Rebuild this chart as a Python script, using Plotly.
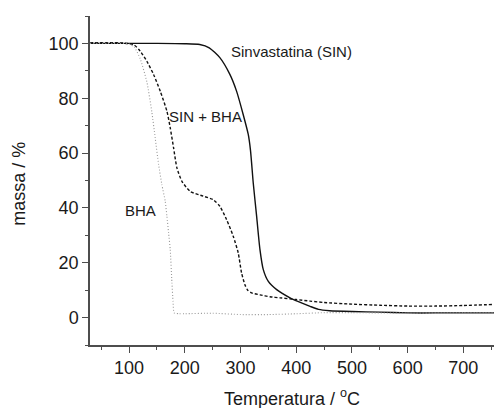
import plotly.graph_objects as go

# SIN (Sinvastatina)
sin_t = [30, 100, 150, 200, 227, 244, 263, 281, 293, 305, 314, 318, 323, 329, 335, 341,
         350, 365, 389, 403, 425, 440, 460, 500, 550, 600, 650, 700, 755]
sin_m = [100, 100, 100, 99.9, 99.6, 98.4, 94.8, 88.7, 82.6, 74.0, 66.8, 61.0, 49.0, 37.0, 24.8, 17.5,
         13.2, 10.2, 7.2, 5.9, 4.1, 3.0, 2.5, 2.2, 2.0, 1.7, 1.7, 1.7, 1.7]

# SIN + BHA
mix_t = [30, 60, 84, 108, 120, 132, 144, 156, 168, 174, 180, 186, 195, 210, 233, 251, 263,
         275, 287, 296, 302, 308, 313, 320, 335, 353, 371, 400, 425, 450, 500, 550, 600,
         650, 700, 755]
mix_m = [100.2, 100.3, 100.2, 99.6, 97.2, 93.5, 88.7, 82.6, 75.3, 69.2, 61.9, 54.6, 49.7, 46.0, 44.3,
         43.0, 40.6, 35.8, 29.7, 23.6, 16.3, 12.0, 10.0, 9.0, 8.3, 7.6, 7.2, 6.6, 6.0, 5.5, 4.9,
         4.5, 4.2, 4.2, 4.4, 4.8]

# BHA
bha_t = [30, 80, 100, 110, 120, 132, 141, 147, 153, 159, 165, 168, 171, 174, 177, 179, 181,
         190, 200, 250, 300, 350, 400, 450, 500, 600, 700, 755]
bha_m = [100, 100, 99.8, 98.5, 94.5, 86.0, 75.0, 65.5, 56.0, 48.5, 42.4, 37.0, 31.0, 24.8, 12.8, 6.0, 1.7,
         1.4, 1.4, 1.6, 1.1, 1.1, 1.4, 1.8, 1.8, 1.6, 1.7, 1.7]

x_ticks = [100, 200, 300, 400, 500, 600, 700]
y_ticks = [0, 20, 40, 60, 80, 100]

FONT = "Arial, Liberation Sans, sans-serif"
TXT = "#1a1a1a"
AX = "#4d4d4d"

fig = go.Figure()
fig.add_trace(go.Scatter(x=sin_t, y=sin_m, mode="lines",
                         line=dict(color="#111111", width=1.4, shape="spline", smoothing=0.6),
                         showlegend=False))
fig.add_trace(go.Scatter(x=mix_t, y=mix_m, mode="lines",
                         line=dict(color="#111111", width=1.4, dash="3px,2px", shape="spline", smoothing=0.6),
                         showlegend=False))
fig.add_trace(go.Scatter(x=bha_t, y=bha_m, mode="lines",
                         line=dict(color="#999999", width=1.1, dash="1px,2px", shape="spline", smoothing=0.5),
                         showlegend=False))

annos = [
    dict(x=392, y=97.1, text="Sinvastatina (SIN)"),
    dict(x=238, y=73.4, text="SIN + BHA"),
    dict(x=121.5, y=39, text="BHA"),
]
for a in annos:
    fig.add_annotation(x=a["x"], y=a["y"], text=a["text"], showarrow=False,
                       xref="x", yref="y", xanchor="center", yanchor="middle",
                       font=dict(family=FONT, size=15, color=TXT))

fig.add_annotation(x=0.5, y=-0.16, xref="paper", yref="paper", showarrow=False,
                   text="Temperatura / <sup>o</sup>C", xanchor="center", yanchor="middle",
                   font=dict(family=FONT, size=18, color=TXT))
fig.add_annotation(x=-0.176, y=0.49, xref="paper", yref="paper", showarrow=False,
                   text="massa / %", textangle=-90, xanchor="center", yanchor="middle",
                   font=dict(family=FONT, size=18, color=TXT))

fig.update_xaxes(range=[30, 755], tickmode="array", tickvals=x_ticks,
                 ticktext=[str(v) for v in x_ticks],
                 showline=True, linecolor=AX, linewidth=1.5, mirror=False,
                 ticks="outside", ticklen=6, tickwidth=1.3, tickcolor=AX,
                 minor=dict(ticks="outside", ticklen=3, tickwidth=1.2, tickcolor=AX,
                            tickmode="linear", tick0=0, dtick=50),
                 showgrid=False, zeroline=False,
                 tickfont=dict(family=FONT, size=18, color=TXT))
fig.update_yaxes(range=[-10, 110], tickmode="array", tickvals=y_ticks,
                 ticktext=[str(v) for v in y_ticks],
                 showline=True, linecolor=AX, linewidth=1.5, mirror=False,
                 ticks="outside", ticklen=6, tickwidth=1.3, tickcolor=AX,
                 minor=dict(ticks="outside", ticklen=3, tickwidth=1.2, tickcolor=AX,
                            tickmode="linear", tick0=0, dtick=10),
                 showgrid=False, zeroline=False,
                 tickfont=dict(family=FONT, size=18, color=TXT))

fig.update_layout(width=495, height=408, margin=dict(l=90, r=1, t=16, b=63),
                  plot_bgcolor="white", paper_bgcolor="white")

fig.write_html("out.html")
